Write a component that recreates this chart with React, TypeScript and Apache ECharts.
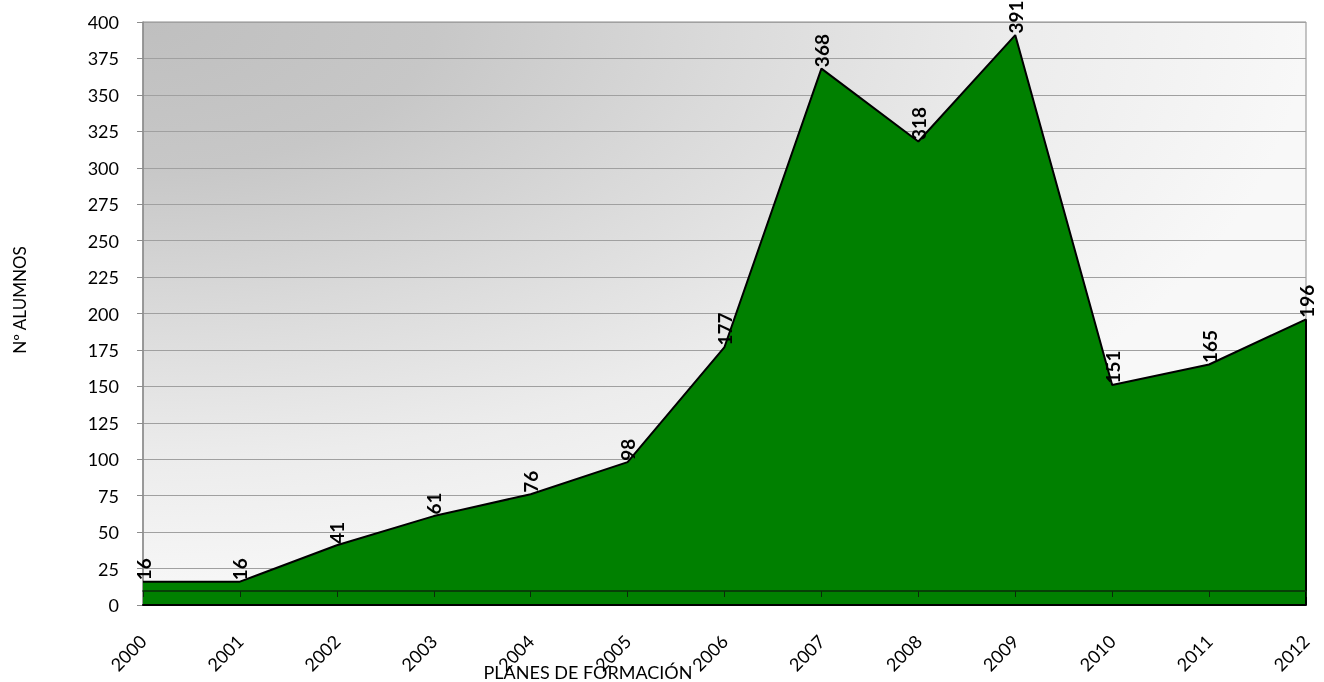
import React, { useEffect, useRef } from "react";
import * as echarts from "echarts";

const years = ["2000", "2001", "2002", "2003", "2004", "2005", "2006", "2007", "2008", "2009", "2010", "2011", "2012"];
const alumnos = [16, 16, 41, 61, 76, 98, 177, 368, 318, 391, 151, 165, 196];
const yAxisTitle = "Nº ALUMNOS";
const xAxisTitle = "PLANES DE FORMACIÓN";

const FONT = "Lato, 'Open Sans', sans-serif";

export default function App() {
  const ref = useRef<HTMLDivElement>(null);

  useEffect(() => {
    if (!ref.current) return;
    const chart = echarts.init(ref.current, null, { renderer: "svg" });
    const gridLeft = 143;
    const gridTop = 22;
    const gridRight = 18;
    const gridBottom = 77;
    const plotW = 1324 - gridLeft - gridRight;
    const plotH = 682 - gridTop - gridBottom;
    const lastIdx = years.length - 1;

    chart.setOption({
      animation: false,
      textStyle: { fontFamily: FONT },
      grid: {
        left: gridLeft,
        top: gridTop,
        right: gridRight,
        bottom: gridBottom,
        show: true,
        borderColor: "#8c8c8c",
        borderWidth: 1,
        backgroundColor: "transparent",
      },
      graphic: [
        {
          type: "rect",
          z: -10,
          x: gridLeft,
          y: gridTop,
          scaleY: plotH / plotW,
          shape: { x: 0, y: 0, width: plotW, height: plotW },
          style: {
            fill: {
              type: "radial",
              x: 0,
              y: 0,
              r: 1,
              colorStops: [
                { offset: 0, color: "#bfbfbf" },
                { offset: 0.25, color: "#c7c7c7" },
                { offset: 0.5, color: "#dadada" },
                { offset: 0.75, color: "#ececec" },
                { offset: 1, color: "#f8f8f8" },
              ],
              global: false,
            },
          },
        },
        {
          type: "text",
          x: 588,
          y: 672,
          style: {
            text: xAxisTitle,
            font: `18px ${FONT}`,
            fill: "#000",
            textAlign: "center",
            textVerticalAlign: "middle",
          },
        },
        {
          type: "text",
          x: 19,
          y: 300,
          rotation: Math.PI / 2,
          style: {
            text: yAxisTitle,
            font: `17px ${FONT}`,
            fill: "#000",
            textAlign: "center",
            textVerticalAlign: "middle",
          },
        },
      ],
      xAxis: [
        {
          type: "category",
          data: years,
          boundaryGap: false,
          z: 5,
          axisLine: { show: true, lineStyle: { color: "#000", width: 2 } },
          axisTick: { show: false },
          axisLabel: {
            rotate: 45,
            margin: 33,
            fontSize: 18,
            color: "#000",
            fontFamily: FONT,
            interval: 0,
          },
          splitLine: { show: false },
        },
        {
          type: "category",
          data: years,
          boundaryGap: false,
          position: "bottom",
          offset: -14,
          z: 5,
          axisLine: { show: true, lineStyle: { color: "#0a2a0a", width: 1.5 } },
          axisTick: { show: true, length: 6, interval: 0, lineStyle: { color: "#0a2a0a", width: 1 } },
          axisLabel: { show: false },
          splitLine: { show: false },
        },
      ],
      yAxis: {
        type: "value",
        min: 0,
        max: 400,
        interval: 25,
        axisLine: { show: true, lineStyle: { color: "#8c8c8c", width: 1.5 } },
        axisTick: { show: true, length: 6, lineStyle: { color: "#8c8c8c" } },
        axisLabel: { fontSize: 18, color: "#000", margin: 24, fontFamily: FONT },
        splitLine: { show: true, lineStyle: { color: "#a0a0a0", width: 1.2 } },
      },
      series: [
        {
          type: "line",
          xAxisIndex: 0,
          data: alumnos,
          showSymbol: true,
          symbol: "circle",
          symbolSize: 1,
          itemStyle: { color: "rgba(0,0,0,0)" },
          lineStyle: { color: "#000", width: 2 },
          areaStyle: { color: "#008000", opacity: 1 },
          z: 2,
          label: {
            show: true,
            position: "top",
            distance: 1,
            rotate: 90,
            align: "left",
            verticalAlign: "middle",
            fontSize: 19,
            fontWeight: "bold",
            color: "#000",
            fontFamily: FONT,
          },
          markLine: {
            silent: true,
            symbol: "none",
            label: { show: false },
            lineStyle: { color: "#000", width: 2, type: "solid" },
            data: [
              [
                { coord: [years[lastIdx], alumnos[lastIdx]] },
                { coord: [years[lastIdx], 0] },
              ],
            ],
          },
        },
      ],
    });

    return () => chart.dispose();
  }, []);

  return (
    <div
      ref={ref}
      style={{ position: "fixed", left: 0, top: 0, width: 1324, height: 682 }}
    />
  );
}
